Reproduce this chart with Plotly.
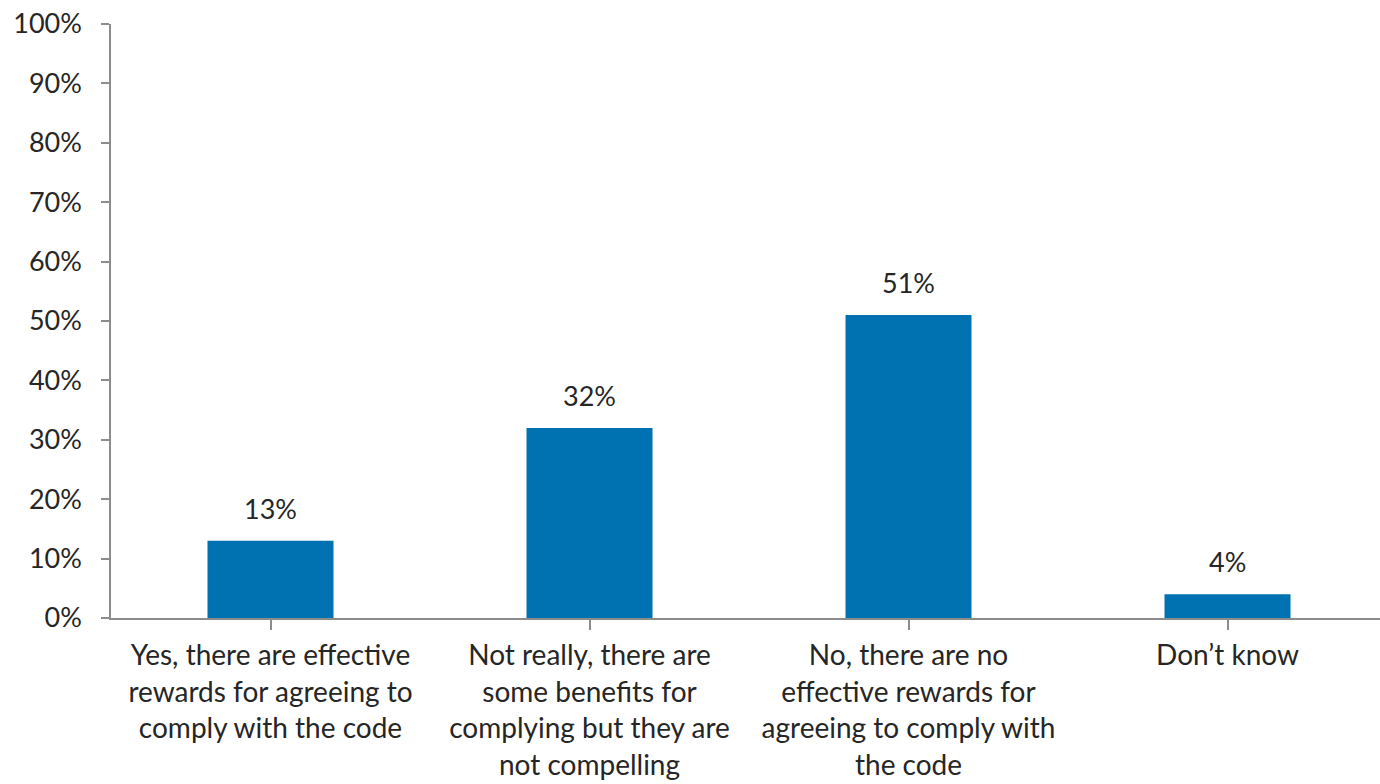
import plotly.graph_objects as go

categories = [
    "Yes, there are effective<br>rewards for agreeing to<br>comply with the code",
    "Not really, there are<br>some benefits for<br>complying but they are<br>not compelling",
    "No, there are no<br>effective rewards for<br>agreeing to comply with<br>the code",
    "Don\u2019t know",
]
shares = [13, 32, 51, 4]
y_ticks = [0, 10, 20, 30, 40, 50, 60, 70, 80, 90, 100]
y_tick_labels = [f"{v}%" for v in y_ticks]

BAR_COLOR = "#0071B1"
AXIS_COLOR = "#8C8C8C"
TEXT_COLOR = "#262626"
FONT = "Lato"

positions = list(range(len(categories)))

fig = go.Figure(
    go.Bar(
        x=positions,
        y=shares,
        width=0.395,
        marker=dict(color=BAR_COLOR, line=dict(width=0)),
        cliponaxis=False,
    )
)

# value labels above each bar
for xpos, val in zip(positions, shares):
    fig.add_annotation(
        x=xpos,
        y=val,
        text=f"{val}%",
        showarrow=False,
        yanchor="bottom",
        yshift=14,
        font=dict(family=FONT, size=27, color=TEXT_COLOR),
    )

fig.update_layout(
    width=1380,
    height=784,
    margin=dict(l=111, r=0, t=24, b=166),
    paper_bgcolor="white",
    plot_bgcolor="white",
    showlegend=False,
    font=dict(family=FONT, size=27, color=TEXT_COLOR),
)

fig.update_xaxes(
    tickmode="array",
    tickvals=positions,
    ticktext=categories,
    range=[-0.5, 3.478],
    showgrid=False,
    zeroline=False,
    showline=True,
    linecolor=AXIS_COLOR,
    linewidth=1.5,
    ticks="outside",
    tickson="boundaries",
    ticklen=10,
    tickcolor=AXIS_COLOR,
    tickwidth=1.5,
    tickangle=0,
    ticklabelstandoff=2,
    tickfont=dict(family=FONT, size=28, color=TEXT_COLOR),
)

fig.update_yaxes(
    range=[0, 100],
    tickmode="array",
    tickvals=y_ticks,
    ticktext=y_tick_labels,
    showgrid=False,
    zeroline=False,
    showline=True,
    linecolor=AXIS_COLOR,
    linewidth=1.5,
    ticks="outside",
    ticklen=8,
    tickcolor=AXIS_COLOR,
    tickwidth=1.5,
    ticklabelstandoff=14,
    tickfont=dict(family=FONT, size=27, color=TEXT_COLOR),
)

fig.write_html("out.html")
